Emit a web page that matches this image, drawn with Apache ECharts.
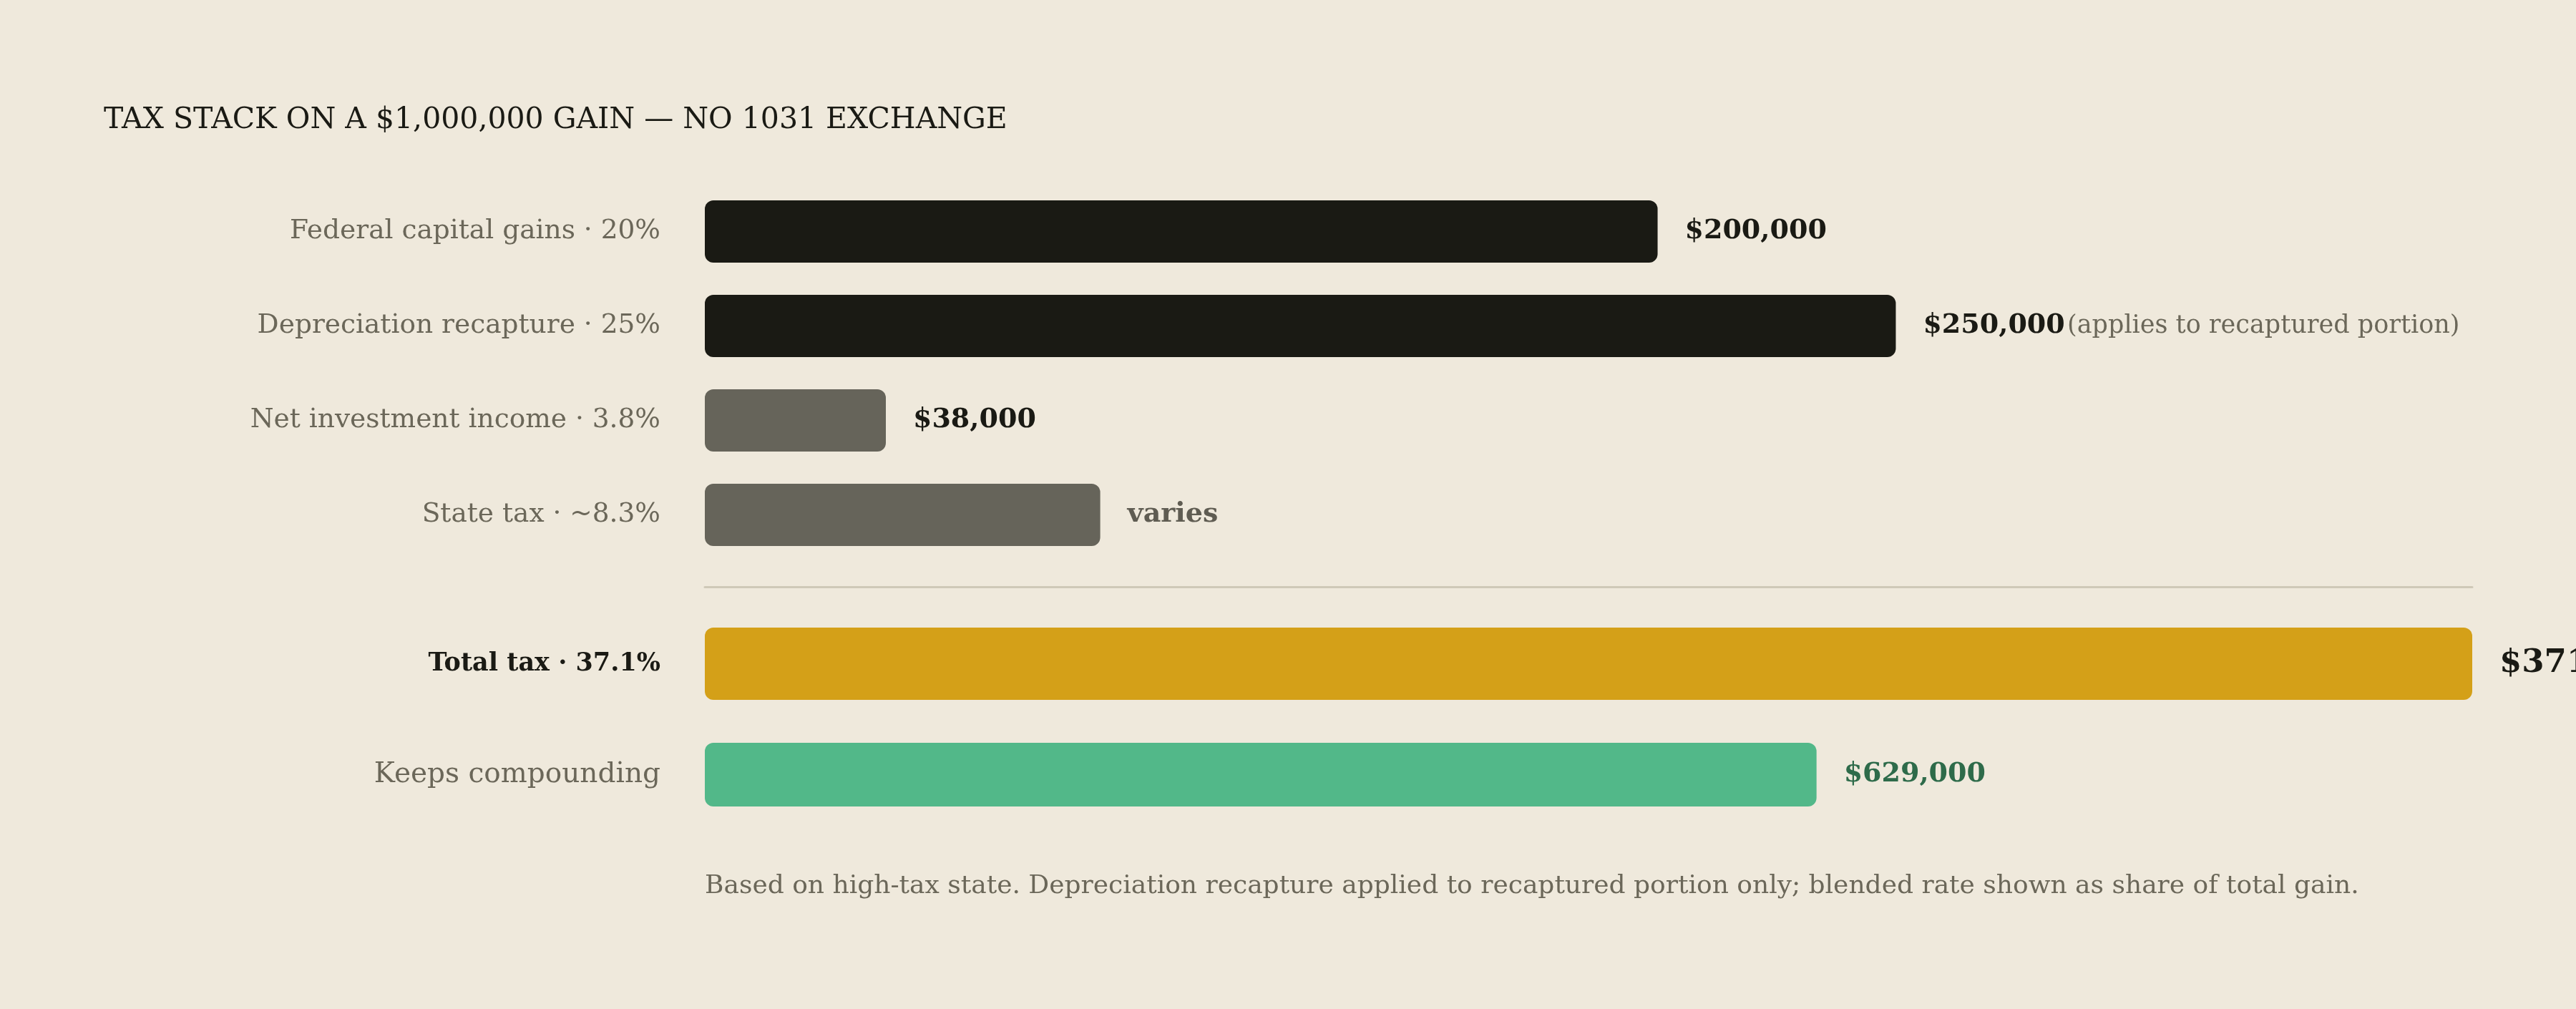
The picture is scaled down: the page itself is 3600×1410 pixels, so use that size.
<!DOCTYPE html>
<html><head><meta charset="utf-8">
<script src="https://cdn.jsdelivr.net/npm/echarts@6/dist/echarts.min.js"></script>
<style>html,body{margin:0;padding:0;background:#efe9dc;}#c{width:3600px;height:1410px;}</style>
</head><body><div id="c"></div>
<script>
const titleText = 'TAX STACK ON A $1,000,000 GAIN — NO 1031 EXCHANGE';
const footnoteText = 'Based on high-tax state. Depreciation recapture applied to recaptured portion only; blended rate shown as share of total gain.';
const taxCategories = ['Federal capital gains · 20%', 'Depreciation recapture · 25%', 'Net investment income · 3.8%', 'State tax · ~8.3%'];
const taxValues = [200000, 250000, 38000, 83000];
const taxLabels = ['$200,000', '$250,000', '$38,000', 'varies'];
const taxNotes = ['', '(applies to recaptured portion)', '', ''];
const taxColors = ['#1a1a14', '#1a1a14', '#66645a', '#66645a'];
const totalCategory = ['Total tax · 37.1%'];
const totalValue = [371000];
const totalLabel = ['$371,000'];
const keepCategory = ['Keeps compounding'];
const keepValue = [629000];
const keepLabel = ['$629,000'];
const totalGain = 1000000;

const FONT = 'DejaVu Serif';
const BG = '#efe9dc';
const GREY = '#6b6759';
const DARK = '#1a1a14';

const chart = echarts.init(document.getElementById('c'));
const hiddenX = (idx, max, extra) => Object.assign({
  type: 'value', gridIndex: idx, min: 0, max: max,
  axisLine: {show: false}, axisTick: {show: false}, axisLabel: {show: false}, splitLine: {show: false}
}, extra || {});
const catY = (idx, data, labelStyle) => ({
  type: 'category', gridIndex: idx, inverse: true, data: data,
  axisLine: {show: false}, axisTick: {show: false}, splitLine: {show: false},
  axisLabel: Object.assign({margin: 62, fontFamily: FONT, fontSize: 37.5, color: GREY}, labelStyle || {})
});

chart.setOption({
  backgroundColor: BG,
  animation: false,
  title: [
    {text: titleText, left: 145, top: 148, padding: 0,
     textStyle: {fontFamily: FONT, fontSize: 41, fontWeight: 'normal', color: DARK}},
    {text: footnoteText, left: 985, top: 1221, padding: 0,
     textStyle: {fontFamily: FONT, fontSize: 36, fontWeight: 'normal', color: GREY}}
  ],
  grid: [
    {left: 985, width: 2470, top: 257.5, height: 528},
    {left: 985, width: 2470, top: 820, height: 215},
    {left: 985, width: 2470, top: 1035, height: 95}
  ],
  xAxis: [
    hiddenX(0, totalValue[0]),
    hiddenX(1, totalValue[0], {position: 'top', axisLine: {show: true, onZero: false, lineStyle: {color: '#cfc9b8', width: 3}}}),
    hiddenX(2, totalGain)
  ],
  yAxis: [
    catY(0, taxCategories),
    catY(1, totalCategory.map(c => ({value: c, textStyle: {fontWeight: 'bold', color: DARK, fontSize: 35}}))),
    catY(2, keepCategory, {fontSize: 39})
  ],
  series: [
    {
      type: 'bar', xAxisIndex: 0, yAxisIndex: 0, barWidth: 87,
      data: taxValues.map((v, i) => ({
        value: v,
        itemStyle: {color: taxColors[i], borderRadius: 12},
        label: {
          show: true, position: 'right', distance: 38,
          formatter: taxNotes[i] ? '{v|' + taxLabels[i] + '} {n|' + taxNotes[i] + '}' : '{v|' + taxLabels[i] + '}',
          rich: {
            v: {fontFamily: FONT, fontSize: 38, fontWeight: 'bold', color: taxLabels[i] === 'varies' ? '#5f5c52' : DARK},
            n: {fontFamily: FONT, fontSize: 35, color: GREY}
          }
        }
      }))
    },
    {
      type: 'bar', xAxisIndex: 1, yAxisIndex: 1, barWidth: 101,
      data: totalValue.map((v, i) => ({value: v, itemStyle: {color: '#d4a018', borderRadius: 12},
        label: {show: true, position: 'right', distance: 38, formatter: totalLabel[i],
          fontFamily: FONT, fontSize: 45, fontWeight: 'bold', color: DARK}}))
    },
    {
      type: 'bar', xAxisIndex: 2, yAxisIndex: 2, barWidth: 89,
      data: keepValue.map((v, i) => ({value: v, itemStyle: {color: '#52b889', borderRadius: 12},
        label: {show: true, position: 'right', distance: 38, formatter: keepLabel[i],
          fontFamily: FONT, fontSize: 38, fontWeight: 'bold', color: '#2e6b4a'}}))
    }
  ]
});
</script></body></html>
